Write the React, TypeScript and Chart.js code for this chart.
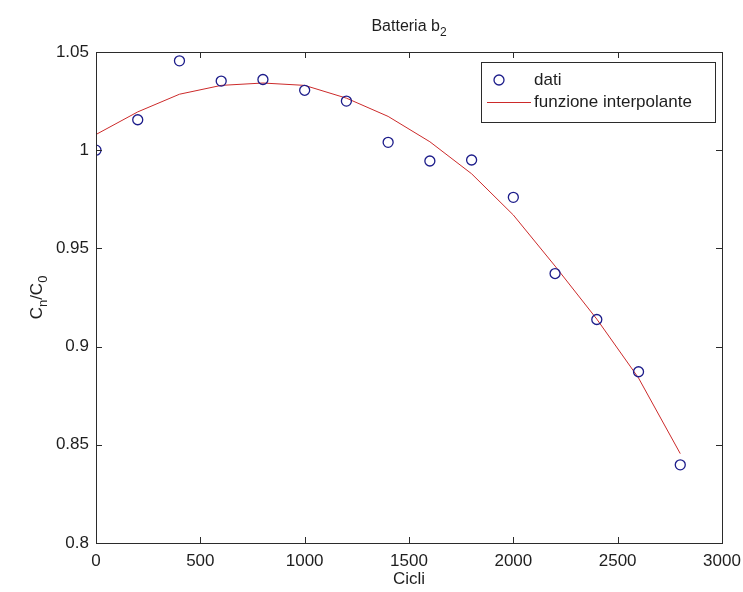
import { useEffect, useRef } from "react";
import { Chart, registerables } from "chart.js";

Chart.register(...registerables);

const cycles = [0, 200, 400, 600, 800, 1000, 1200, 1400, 1600, 1800, 2000, 2200, 2400, 2600, 2800];
const measured = [1.0, 1.0155, 1.0455, 1.0352, 1.036, 1.0305, 1.025, 1.004, 0.9945, 0.995, 0.976, 0.9372, 0.9138, 0.8872, 0.8398];
const fitted = [1.008, 1.0195, 1.0285, 1.033, 1.0342, 1.033, 1.0265, 1.0172, 1.0043, 0.988, 0.967, 0.941, 0.914, 0.884, 0.8455];
const xTickValues = [0, 500, 1000, 1500, 2000, 2500, 3000];
const xTickLabels = ["0", "500", "1000", "1500", "2000", "2500", "3000"];
const yTickValues = [0.8, 0.85, 0.9, 0.95, 1.0, 1.05];
const yTickLabels = ["0.8", "0.85", "0.9", "0.95", "1", "1.05"];
const legendLabels = ["dati", "funzione interpolante"];

const FONT = '"Liberation Sans", Arial, sans-serif';
const AXIS = "#2b2b2b";
const TEXT = "#1e1e1e";
const MARK = "#1c1c8a";
const LINE = "#cc2a2a";

const decor = {
  id: "decor",
  afterDraw(chart: any) {
    const ctx = chart.ctx as CanvasRenderingContext2D;
    const a = chart.chartArea;
    const xs = chart.scales.x;
    const ys = chart.scales.y;
    ctx.save();
    ctx.strokeStyle = AXIS;
    ctx.lineWidth = 1;
    ctx.strokeRect(Math.round(a.left) + 0.5, Math.round(a.top) + 0.5, Math.round(a.right - a.left), Math.round(a.bottom - a.top));
    const tl = 6;
    ctx.beginPath();
    xTickValues.forEach((v) => {
      const px = Math.round(xs.getPixelForValue(v)) + 0.5;
      ctx.moveTo(px, a.bottom);
      ctx.lineTo(px, a.bottom - tl);
      ctx.moveTo(px, a.top);
      ctx.lineTo(px, a.top + tl);
    });
    yTickValues.forEach((v) => {
      const py = Math.round(ys.getPixelForValue(v)) + 0.5;
      ctx.moveTo(a.left, py);
      ctx.lineTo(a.left + tl, py);
      ctx.moveTo(a.right, py);
      ctx.lineTo(a.right - tl, py);
    });
    ctx.stroke();

    ctx.fillStyle = TEXT;
    const cx = (a.left + a.right) / 2;
    ctx.textBaseline = "alphabetic";
    const t1 = "Batteria b";
    const t2 = "2";
    ctx.font = `16px ${FONT}`;
    const w1 = ctx.measureText(t1).width;
    ctx.font = `12px ${FONT}`;
    const w2 = ctx.measureText(t2).width;
    const sx = cx - (w1 + w2) / 2;
    ctx.textAlign = "left";
    ctx.font = `16px ${FONT}`;
    ctx.fillText(t1, sx, a.top - 21);
    ctx.font = `12px ${FONT}`;
    ctx.fillText(t2, sx + w1, a.top - 16);

    ctx.font = `17px ${FONT}`;
    ctx.textAlign = "center";
    ctx.textBaseline = "middle";
    ctx.fillText("Cicli", cx, 579);

    const parts: [string, boolean][] = [["C", false], ["n", true], ["/C", false], ["0", true]];
    let total = 0;
    parts.forEach(([s, sub]) => {
      ctx.font = `${sub ? 13 : 17}px ${FONT}`;
      total += ctx.measureText(s).width;
    });
    const cy = (a.top + a.bottom) / 2;
    ctx.translate(37, cy);
    ctx.rotate(-Math.PI / 2);
    ctx.textAlign = "left";
    ctx.textBaseline = "alphabetic";
    let off = -total / 2;
    parts.forEach(([s, sub]) => {
      ctx.font = `${sub ? 13 : 17}px ${FONT}`;
      ctx.fillText(s, off, sub ? 10 : 5);
      off += ctx.measureText(s).width;
    });
    ctx.setTransform(1, 0, 0, 1, 0, 0);

    const lx = 481, ly = 62, lw = 234, lh = 60;
    ctx.fillStyle = "#ffffff";
    ctx.fillRect(lx, ly, lw, lh);
    ctx.strokeStyle = AXIS;
    ctx.lineWidth = 1;
    ctx.strokeRect(lx + 0.5, ly + 0.5, lw, lh);
    const r1 = 80, r2 = 102;
    ctx.strokeStyle = MARK;
    ctx.lineWidth = 1.3;
    ctx.beginPath();
    ctx.arc(499, r1, 5, 0, Math.PI * 2);
    ctx.stroke();
    ctx.strokeStyle = LINE;
    ctx.lineWidth = 1;
    ctx.beginPath();
    ctx.moveTo(487, r2 + 0.5);
    ctx.lineTo(531, r2 + 0.5);
    ctx.stroke();
    ctx.fillStyle = TEXT;
    ctx.font = `17px ${FONT}`;
    ctx.textAlign = "left";
    ctx.textBaseline = "middle";
    ctx.fillText(legendLabels[0], 534, r1);
    ctx.fillText(legendLabels[1], 534, r2);
    ctx.restore();
  },
};

export default function App() {
  const ref = useRef<HTMLCanvasElement | null>(null);
  useEffect(() => {
    if (!ref.current) return;
    const chart = new Chart(ref.current, {
      type: "line",
      data: {
        datasets: [
          {
            label: legendLabels[0],
            data: cycles.map((c, i) => ({ x: c, y: measured[i] })),
            showLine: false,
            pointStyle: "circle",
            pointRadius: 5,
            pointBorderWidth: 1.3,
            pointBorderColor: MARK,
            pointBackgroundColor: "rgba(0,0,0,0)",
            borderColor: MARK,
            order: 1,
          },
          {
            label: legendLabels[1],
            data: cycles.map((c, i) => ({ x: c, y: fitted[i] })),
            borderColor: LINE,
            borderWidth: 1,
            pointRadius: 0,
            tension: 0,
            fill: false,
            order: 2,
          },
        ],
      },
      options: {
        animation: false,
        responsive: true,
        maintainAspectRatio: false,
        layout: { padding: { left: 0, right: 21, top: 52, bottom: 0 } },
        plugins: { legend: { display: false }, title: { display: false }, tooltip: { enabled: false } },
        scales: {
          x: {
            type: "linear",
            min: 0,
            max: 3000,
            afterBuildTicks: (s: any) => {
              s.ticks = xTickValues.map((v) => ({ value: v }));
            },
            afterFit: (s: any) => {
              s.height = 49;
              s.paddingLeft = 0;
              s.paddingRight = 0;
            },
            grid: { display: false, drawTicks: false },
            border: { display: false },
            ticks: {
              callback: (_v: any, i: number) => xTickLabels[i],
              font: { family: FONT, size: 17 },
              color: TEXT,
              padding: 8,
              maxRotation: 0,
              autoSkip: false,
            },
          },
          y: {
            type: "linear",
            min: 0.8,
            max: 1.05,
            afterBuildTicks: (s: any) => {
              s.ticks = yTickValues.map((v) => ({ value: v }));
            },
            afterFit: (s: any) => {
              s.width = 96;
              s.paddingTop = 0;
              s.paddingBottom = 0;
            },
            grid: { display: false, drawTicks: false },
            border: { display: false },
            ticks: {
              callback: (_v: any, i: number) => yTickLabels[i],
              font: { family: FONT, size: 17 },
              color: TEXT,
              padding: 7,
              autoSkip: false,
            },
          },
        },
      },
      plugins: [decor],
    });
    return () => chart.destroy();
  }, []);
  return (
    <div style={{ position: "absolute", left: 0, top: 0, width: 743, height: 592, background: "#fff" }}>
      <canvas ref={ref} />
    </div>
  );
}
